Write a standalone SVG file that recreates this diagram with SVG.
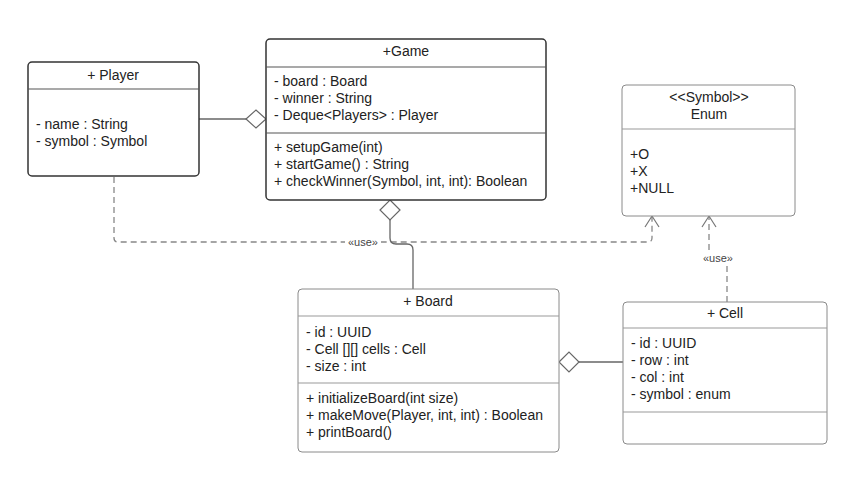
<svg xmlns="http://www.w3.org/2000/svg" width="857" height="495" viewBox="0 0 857 495">
<defs>
<style>
text { font-family: "Liberation Sans", Arial, sans-serif; font-size: 14px; fill: #222; }
.c { text-anchor: middle; }
.boxd { fill: #fff; stroke: #333; stroke-width: 1.5; }
.boxl { fill: #fff; stroke: #8a8a8a; stroke-width: 1; }
.divd { stroke: #555; stroke-width: 1.2; }
.divl { stroke: #999; stroke-width: 1; }
.solid { fill: none; stroke: #666; stroke-width: 1.3; }
.dash { fill: none; stroke: #888; stroke-width: 1.3; stroke-dasharray: 6 4; }
.dia { fill: #fff; stroke: #666; stroke-width: 1.2; }
.lbl { font-size: 11px; fill: #444; }
</style>
</defs>

<g id="connectors">
<line class="solid" x1="199" y1="119" x2="246" y2="119"/>
<polygon class="dia" points="246,119 256,110 266,119 256,128"/>
<path class="dash" d="M114,177 V238 Q114,242 118,242 H648 Q652,242 652,238 V217"/>
<path d="M645,227 L652,216 L659,227" fill="none" stroke="#777" stroke-width="1.2"/>
<path class="solid" d="M390,219 V238 Q390,244 396,244 H407 Q413,244 413,250 V289"/>
<polygon class="dia" points="390,200 400,210 390,220 380,210"/>
<rect x="345" y="235" width="36" height="13" fill="#fff"/>
<text class="lbl c" x="363" y="246">«use»</text>
<line class="solid" x1="579" y1="362" x2="623" y2="362"/>
<polygon class="dia" points="559,362 569,352 579,362 569,372"/>
<path class="dash" d="M727,302 V258 H709 V217"/>
<path d="M702,227 L709,216 L716,227" fill="none" stroke="#777" stroke-width="1.2"/>
<rect x="699" y="251" width="38" height="14" fill="#fff"/>
<text class="lbl c" x="718" y="262">«use»</text>
</g>

<g id="player">
<rect class="boxd" x="28" y="62" width="171" height="114" rx="4"/>
<line class="divd" x1="28" y1="89" x2="199" y2="89"/>
<text class="c" x="113" y="80">+ Player</text>
<text x="36" y="129">- name : String</text>
<text x="36" y="146">- symbol : Symbol</text>
</g>

<g id="game">
<rect class="boxd" x="266" y="39" width="280" height="161" rx="4"/>
<line class="divd" x1="266" y1="67" x2="546" y2="67"/>
<line class="divd" x1="266" y1="133" x2="546" y2="133"/>
<text class="c" x="406" y="56">+Game</text>
<text x="274" y="86">- board : Board</text>
<text x="274" y="103">- winner : String</text>
<text x="274" y="120">- Deque&lt;Players&gt; : Player</text>
<text x="274" y="152">+ setupGame(int)</text>
<text x="274" y="169">+ startGame() : String</text>
<text x="274" y="186">+ checkWinner(Symbol, int, int): Boolean</text>
</g>

<g id="enum">
<rect class="boxl" x="622" y="85" width="173" height="131" rx="4"/>
<line class="divl" x1="622" y1="129" x2="795" y2="129"/>
<text class="c" x="709" y="102">&lt;&lt;Symbol&gt;&gt;</text>
<text class="c" x="709" y="119">Enum</text>
<text x="630" y="159">+O</text>
<text x="630" y="176">+X</text>
<text x="630" y="193">+NULL</text>
</g>

<g id="board">
<rect class="boxl" x="298" y="289" width="261" height="163" rx="4"/>
<line class="divl" x1="298" y1="316" x2="559" y2="316"/>
<line class="divl" x1="298" y1="383" x2="559" y2="383"/>
<text class="c" x="428" y="306">+ Board</text>
<text x="306" y="337">- id : UUID</text>
<text x="306" y="354">- Cell [][] cells : Cell</text>
<text x="306" y="371">- size : int</text>
<text x="306" y="403">+ initializeBoard(int size)</text>
<text x="306" y="420">+ makeMove(Player, int, int) : Boolean</text>
<text x="306" y="437">+ printBoard()</text>
</g>

<g id="cell">
<rect class="boxl" x="623" y="302" width="204" height="142" rx="4"/>
<line class="divl" x1="623" y1="328" x2="827" y2="328"/>
<line class="divl" x1="623" y1="412" x2="827" y2="412"/>
<text class="c" x="725" y="318">+ Cell</text>
<text x="631" y="348">- id : UUID</text>
<text x="631" y="365">- row : int</text>
<text x="631" y="382">- col : int</text>
<text x="631" y="399">- symbol : enum</text>
</g>
</svg>
